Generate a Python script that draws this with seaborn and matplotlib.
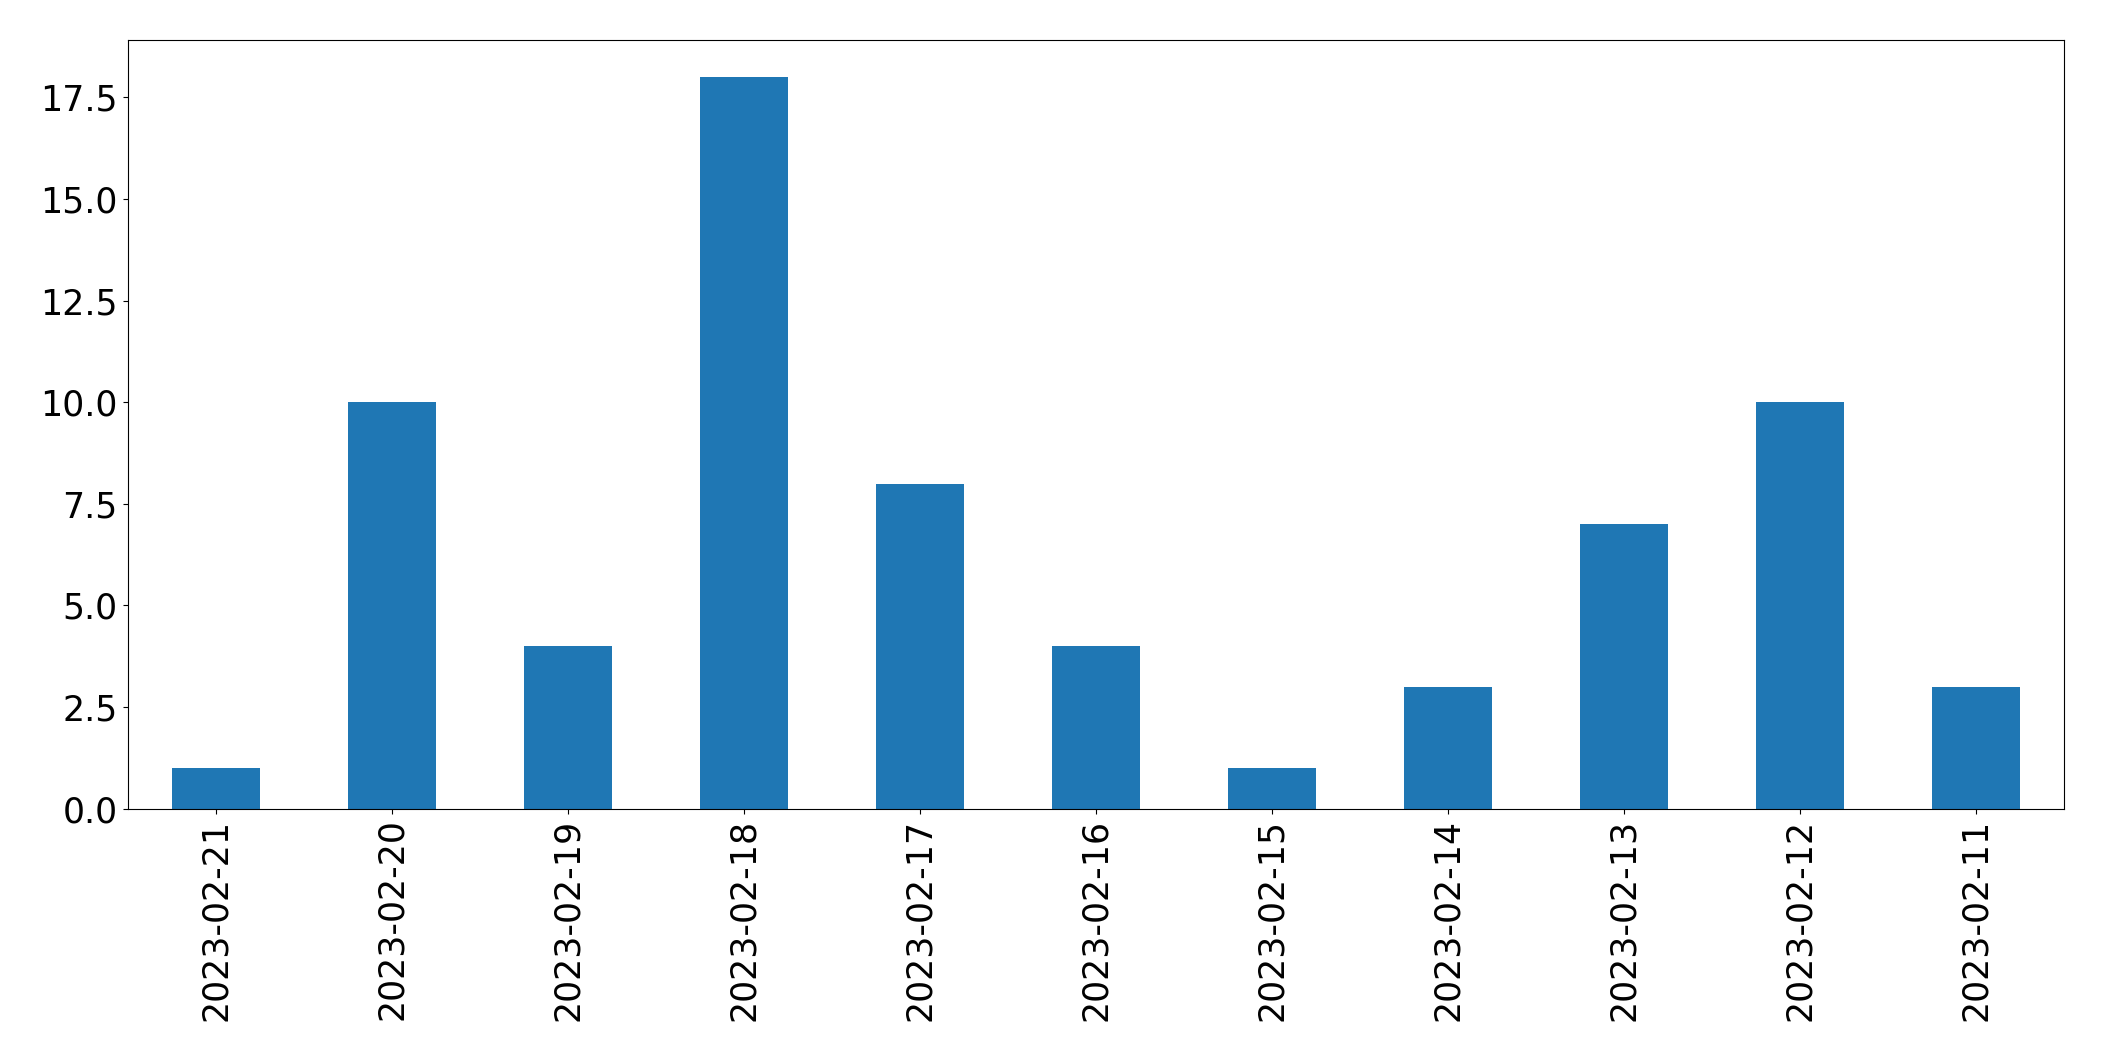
import matplotlib
matplotlib.use('Agg')
import matplotlib.pyplot as plt
import seaborn as sns
import pandas as pd

# data
dates = ['2023-02-21', '2023-02-20', '2023-02-19', '2023-02-18', '2023-02-17', '2023-02-16',
         '2023-02-15', '2023-02-14', '2023-02-13', '2023-02-12', '2023-02-11']
counts = [1, 10, 4, 18, 8, 4, 1, 3, 7, 10, 3]

df = pd.DataFrame({'date': dates, 'count': counts})

fig, ax = plt.subplots(figsize=(21.04, 10.61), dpi=100)
fig.subplots_adjust(left=0.0606, right=0.981, top=0.962, bottom=0.2377)

sns.barplot(data=df, x='date', y='count', order=dates, color='#1f77b4',
            saturation=1, width=0.5, linewidth=0, ax=ax)

ax.set_xlim(-0.5, len(dates) - 0.5)
ax.set_ylim(0, max(counts) * 1.05)
ax.set_xlabel('')
ax.set_ylabel('')
ax.tick_params(axis='both', labelsize=25)
plt.xticks(rotation=90)

plt.savefig('out.png', dpi=100)
